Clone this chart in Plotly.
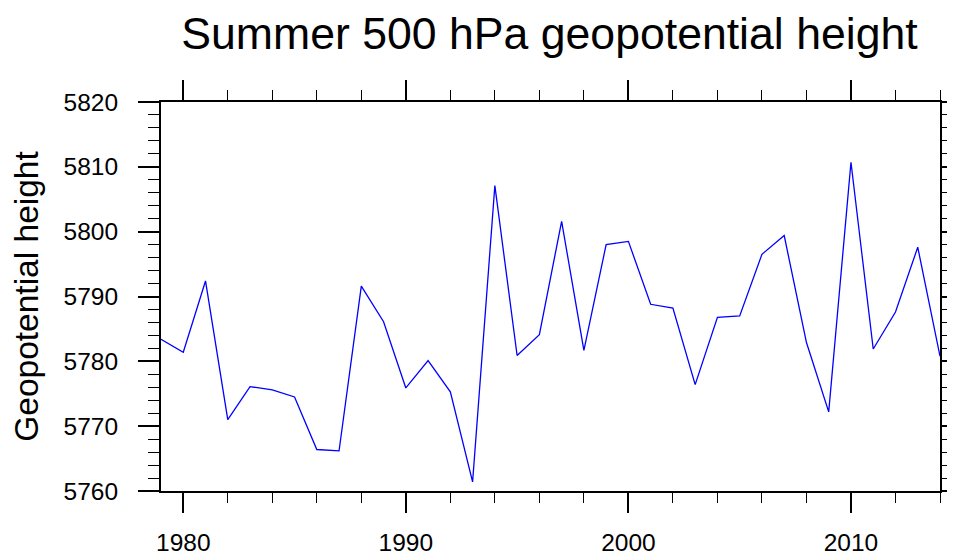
import plotly.graph_objects as go

years = list(range(1979, 2015))
heights = [5783.4, 5781.4, 5792.4, 5771.0, 5776.1, 5775.6, 5774.5, 5766.4, 5766.2,
           5791.6, 5786.1, 5775.9, 5780.1, 5775.3, 5761.4, 5807.1, 5780.9, 5784.1,
           5801.6, 5781.7, 5798.0, 5798.5, 5788.8, 5788.2, 5776.4, 5786.8, 5787.0,
           5796.5, 5799.4, 5782.9, 5772.2, 5810.7, 5781.9, 5787.6, 5797.6, 5780.8]
x_ticks = [1980, 1990, 2000, 2010]
y_ticks = [5760, 5770, 5780, 5790, 5800, 5810, 5820]

FONT = "Liberation Sans, Arial, Helvetica, sans-serif"

fig = go.Figure()
fig.add_trace(go.Scatter(x=years, y=heights, mode="lines",
                         line=dict(color="#0000ff", width=1.3), showlegend=False))

axis_common = dict(showline=True, linecolor="black", linewidth=2, mirror="allticks",
                   ticks="outside", tickcolor="black", tickwidth=2,
                   showgrid=False, zeroline=False, automargin=False,
                   tickfont=dict(family=FONT, size=24.5, color="black"))

fig.update_xaxes(range=[1979, 2014], tickvals=x_ticks, ticklabelstandoff=9, ticklen=20,
                 minor=dict(dtick=2, tick0=1980, ticklen=10, tickwidth=1,
                            tickcolor="black", ticks="outside"),
                 **axis_common)
fig.update_yaxes(range=[5760, 5820], tickvals=y_ticks, ticklabelstandoff=15, ticklen=21,
                 title=dict(text="Geopotential height", standoff=22,
                            font=dict(family=FONT, size=33.5, color="black")),
                 minor=dict(dtick=2, tick0=5760, ticklen=11, tickwidth=1,
                            tickcolor="black", ticks="outside"),
                 **axis_common)

fig.update_layout(
    width=947, height=551,
    margin=dict(l=153, r=15, t=94, b=68),
    paper_bgcolor="white", plot_bgcolor="white",
    title=dict(text="Summer 500 hPa geopotential height",
               font=dict(family=FONT, size=44.6, color="black"),
               x=0.5718, xanchor="center", y=0.9546, yanchor="middle",
               automargin=False),
)

fig.write_html("out.html")
